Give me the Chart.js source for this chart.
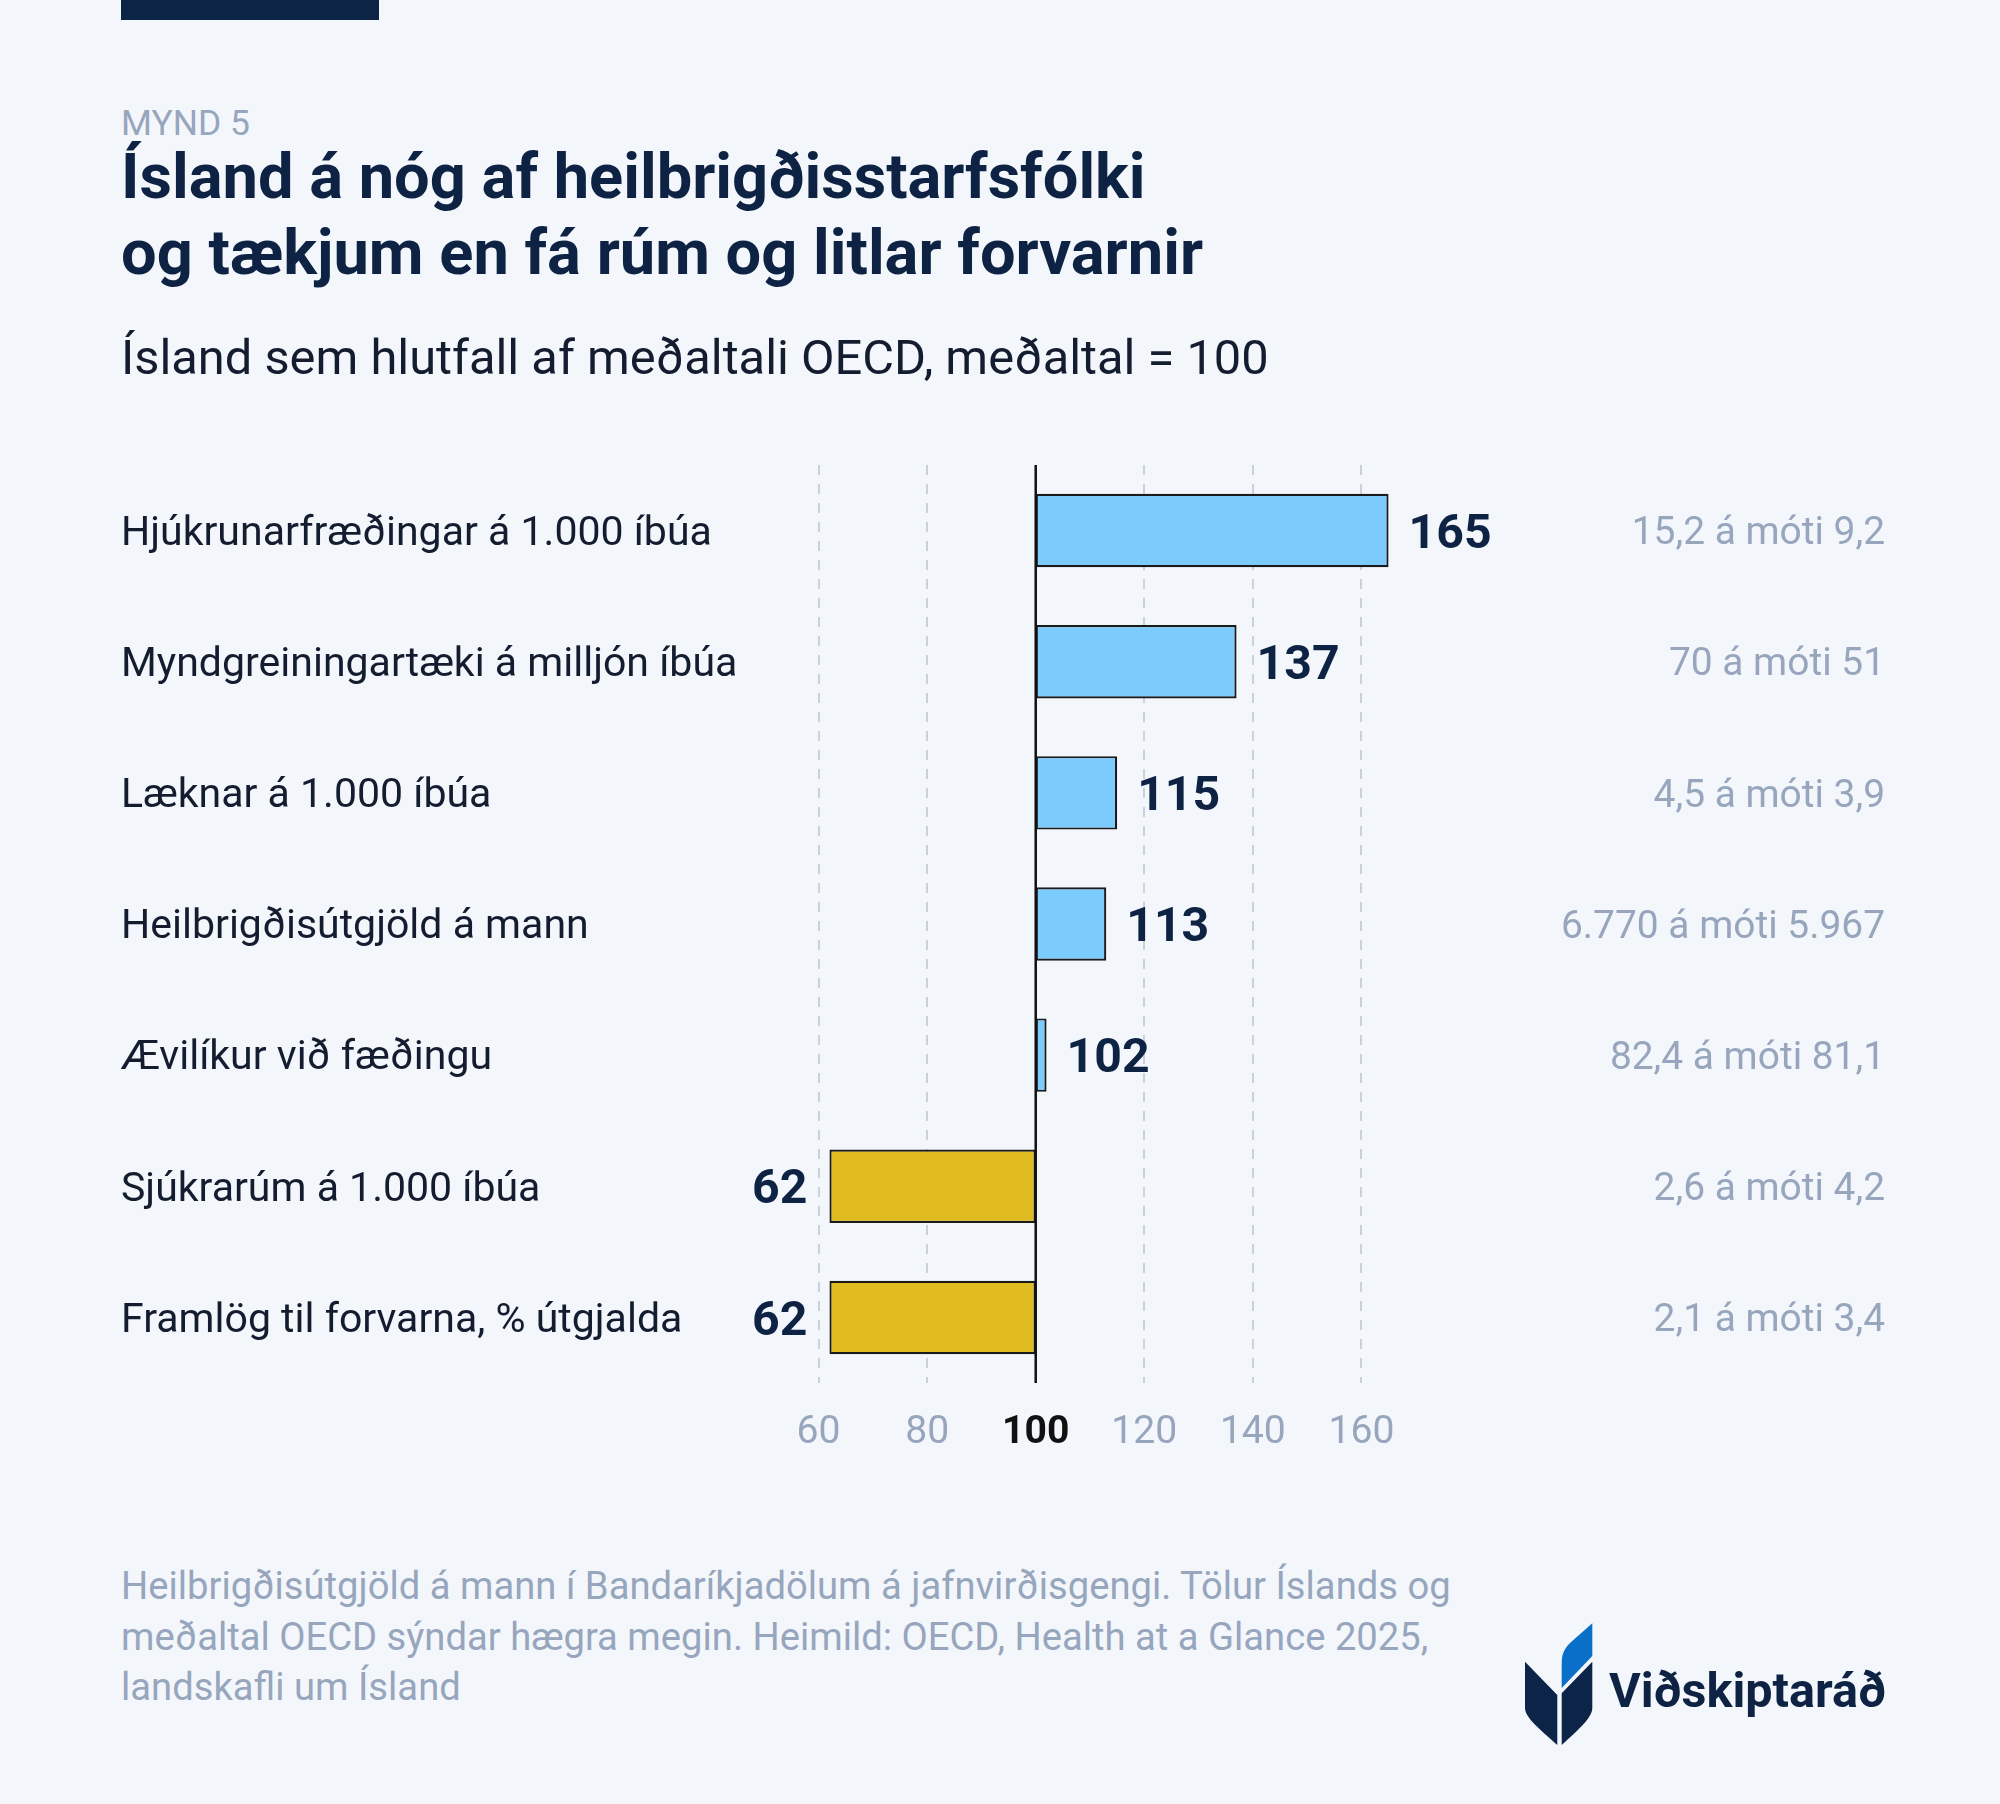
<!DOCTYPE html>
<html><head><meta charset="utf-8">
<script src="https://cdn.jsdelivr.net/npm/chart.js@4.4.1/dist/chart.umd.min.js"></script>
<style>
html,body{margin:0;padding:0;background:#f3f7fc;}
#page{position:relative;width:2000px;height:1804px;overflow:hidden;background:#f3f7fc;}
.t{position:absolute;white-space:nowrap;line-height:1;margin:0;}
#chartBox{position:absolute;left:0;top:400px;width:2000px;height:1100px;}
</style></head><body>
<div id="page">
 <div id="topbar" style="position:absolute;left:121px;top:0;width:258px;height:20px;background:#0c2547"></div>
 <div class="t" id="kicker">MYND 5</div>
 <div class="t" id="title1">Ísland á nóg af heilbrigðisstarfsfólki</div>
 <div class="t" id="title2">og tækjum en fá rúm og litlar forvarnir</div>
 <div class="t" id="subtitle">Ísland sem hlutfall af meðaltali OECD, meðaltal = 100</div>
 <div id="chartBox"><canvas id="c"></canvas></div>
 <div class="t" id="f1">Heilbrigðisútgjöld á mann í Bandaríkjadölum á jafnvirðisgengi. Tölur Íslands og</div>
 <div class="t" id="f2">meðaltal OECD sýndar hægra megin. Heimild: OECD, Health at a Glance 2025,</div>
 <div class="t" id="f3">landskafli um Ísland</div>
 <svg style="position:absolute;left:1520px;top:1618px;" width="80" height="132" viewBox="0 0 80 132">
  <path d="M5,43.7 L37.3,77 L37.3,127 C22,113 5,100 5,90 Z" fill="#0b2447"/>
  <path d="M72.3,43.7 L41.7,75.3 L41.7,127 C57,113 72.3,100 72.3,90 Z" fill="#0b2447"/>
  <path d="M41.7,70 L41.7,46 C41.7,36 44,31 50,25 L72.3,5.3 L72.3,38 Z" fill="#0a6fc9"/>
 </svg>
 <div class="t" id="logoText">Viðskiptaráð</div>
</div>
<script>
// ---- data ----
const categories = [
  'Hjúkrunarfræðingar á 1.000 íbúa',
  'Myndgreiningartæki á milljón íbúa',
  'Læknar á 1.000 íbúa',
  'Heilbrigðisútgjöld á mann',
  'Ævilíkur við fæðingu',
  'Sjúkrarúm á 1.000 íbúa',
  'Framlög til forvarna, % útgjalda'
];
const values = [165, 137, 115, 113, 102, 62, 62];
const comparisons = [
  '15,2 á móti 9,2',
  '70 á móti 51',
  '4,5 á móti 3,9',
  '6.770 á móti 5.967',
  '82,4 á móti 81,1',
  '2,6 á móti 4,2',
  '2,1 á móti 3,4'
];
const tickValues = [60, 80, 100, 120, 140, 160];
const oecdAverage = 100;

// ---- styles ----
const FAMILY = 'Roboto, "Noto Sans", sans-serif';
const NAVY = '#0e2343';
const DARK = '#141d2f';
const GRAY = '#97a6bc';
const BLUE = '#7ccbfd';
const YELLOW = '#e1bc21';

const mctx = document.createElement('canvas').getContext('2d');
function fitSize(text, weight, target) {
  mctx.font = weight + ' 100px ' + FAMILY;
  return 100 * target / mctx.measureText(text).width;
}
function place(id, weight, size, color, left, baseline) {
  const el = document.getElementById(id);
  el.style.fontFamily = FAMILY;
  el.style.fontWeight = weight;
  el.style.fontSize = size + 'px';
  el.style.color = color;
  mctx.font = weight + ' ' + size + 'px ' + FAMILY;
  const m = mctx.measureText(el.textContent);
  const a = m.fontBoundingBoxAscent, d = m.fontBoundingBoxDescent;
  el.style.top = (baseline - ((size - (a + d)) / 2 + a)) + 'px';
  el.style.left = left + 'px';
}

place('kicker', 400, fitSize('MYND 5', 400, 129), GRAY, 121, 136);
const tSize = (fitSize(document.getElementById('title1').textContent, 700, 1027) +
               fitSize(document.getElementById('title2').textContent, 700, 1080)) / 2;
place('title1', 700, tSize, NAVY, 121, 199);
place('title2', 700, tSize, NAVY, 121, 275);
place('subtitle', 400, fitSize(document.getElementById('subtitle').textContent, 400, 1148), DARK, 121, 375);
const fSize = (fitSize(document.getElementById('f1').textContent, 400, 1321) +
               fitSize(document.getElementById('f2').textContent, 400, 1318)) / 2;
place('f1', 400, fSize, GRAY, 121, 1599);
place('f2', 400, fSize, GRAY, 121, 1650);
place('f3', 400, fSize, GRAY, 121, 1700);
place('logoText', 700, fitSize('Viðskiptaráð', 700, 277), NAVY, 1609, 1708);

const labelSize = (fitSize(categories[0], 400, 591) + fitSize(categories[1], 400, 612) +
                   fitSize(categories[6], 400, 566)) / 3;
const compSize = (fitSize(comparisons[3], 400, 322) + fitSize(comparisons[0], 400, 255)) / 2;
const valueSize = fitSize('165', 700, 83);
const tickSize = fitSize('160', 400, 66);

const isAvgTick = c => !!(c && c.tick && c.tick.value === oecdAverage);

const overlay = {
  id: 'overlay',
  afterDatasetsDraw(chart) {
    const { ctx, chartArea, scales: { x, y } } = chart;
    const px = x.getPixelForValue(oecdAverage);
    ctx.save();
    ctx.strokeStyle = '#111';
    ctx.lineWidth = 2.5;
    ctx.beginPath();
    ctx.moveTo(px, chartArea.top);
    ctx.lineTo(px, chartArea.bottom);
    ctx.stroke();
    ctx.font = '700 ' + valueSize + 'px ' + FAMILY;
    ctx.fillStyle = NAVY;
    ctx.textBaseline = 'alphabetic';
    values.forEach((v, i) => {
      const vx = x.getPixelForValue(v);
      const vy = y.getPixelForValue(i) + valueSize * 0.355;
      if (v >= oecdAverage) { ctx.textAlign = 'left'; ctx.fillText(String(v), vx + 20, vy); }
      else { ctx.textAlign = 'right'; ctx.fillText(String(v), vx - 22, vy); }
    });
    ctx.restore();
  }
};

new Chart(document.getElementById('c'), {
  type: 'bar',
  data: {
    labels: categories,
    datasets: [{
      data: values.map(v => [oecdAverage, v]),
      backgroundColor: values.map(v => v >= oecdAverage ? BLUE : YELLOW),
      borderColor: '#1b1b1b',
      borderWidth: 2.2,
      borderSkipped: false,
      barPercentage: 0.56,
      categoryPercentage: 1
    }]
  },
  options: {
    indexAxis: 'y',
    responsive: true,
    maintainAspectRatio: false,
    animation: false,
    layout: { padding: { left: 121, right: 115, top: 65, bottom: 0 } },
    plugins: { legend: { display: false }, tooltip: { enabled: false } },
    scales: {
      x: {
        type: 'linear', min: 50, max: 180,
        afterBuildTicks: s => { s.ticks = tickValues.map(v => ({ value: v })); },
        grid: {
          color: c => isAvgTick(c) ? 'rgba(0,0,0,0)' : '#c9d1dc',
          lineWidth: 2, drawTicks: false
        },
        border: { display: false, dash: [10, 9] },
        ticks: {
          color: c => isAvgTick(c) ? '#111111' : GRAY,
          font: c => ({ family: FAMILY, size: tickSize, weight: isAvgTick(c) ? 'bold' : 'normal' }),
          padding: 27,
          autoSkip: false,
          maxRotation: 0
        },
        afterFit: s => { s.height = 117; }
      },
      y: {
        position: 'left',
        grid: { display: false },
        border: { display: false },
        ticks: { crossAlign: 'far', color: DARK, font: { family: FAMILY, size: labelSize }, padding: 0, labelOffset: 4 },
        afterFit: s => { s.width = 643.3; }
      },
      y2: {
        type: 'category',
        labels: comparisons,
        position: 'right',
        offset: true,
        grid: { display: false },
        border: { display: false },
        ticks: { crossAlign: 'far', color: GRAY, font: { family: FAMILY, size: compSize }, padding: 0, labelOffset: 4 },
        afterFit: s => { s.width = 415; }
      }
    }
  },
  plugins: [overlay]
});
</script>
</body></html>
